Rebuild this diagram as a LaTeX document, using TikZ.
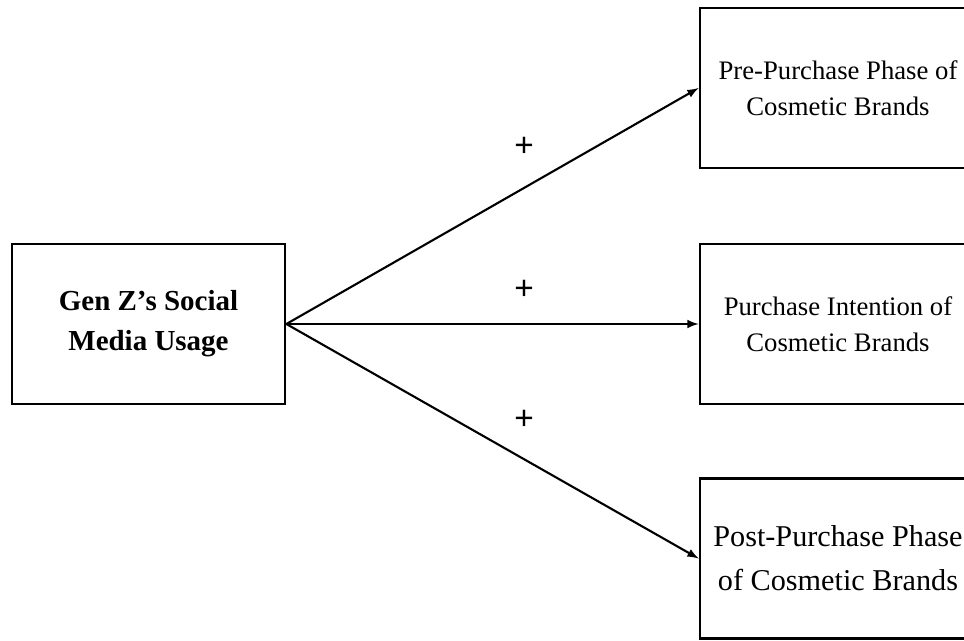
\documentclass[tikz,border=0pt]{standalone}
\usepackage{fontspec}
\setmainfont{Liberation Serif}
\setsansfont{Liberation Sans}
\def\h{0.02}
\tikzset{
	kasten/.style={draw,line width=1.6pt,minimum width={5.46cm},minimum height={3.2cm},align=center,inner sep=0pt},
	ziel/.style={kasten,minimum width={5.52cm}},
	pfeil/.style={->,line width=1.2pt},
	plus/.style={font=\sffamily\fontsize{19}{20}\selectfont}
}
\begin{document}
\begin{tikzpicture}[>=latex]
\useasboundingbox (0,0) rectangle ({964*\h},{-641*\h});
% Kaesten
\node[kasten,font=\bfseries\fontsize{16.5}{22.8}\selectfont] (usage) at ({148.5*\h},{-324*\h}) {Gen Z's Social\\Media Usage};
\node[ziel,font=\fontsize{15.2}{20.5}\selectfont] (pre) at ({838*\h},{-88*\h}) {Pre-Purchase Phase of\\Cosmetic Brands};
\node[ziel,font=\fontsize{15.2}{20.5}\selectfont] (intent) at ({838*\h},{-324*\h}) {Purchase Intention of\\Cosmetic Brands};
\node[ziel,font=\fontsize{17.2}{25}\selectfont] (post) at ({838*\h},{-558.5*\h}) {Post-Purchase Phase\\of Cosmetic Brands};
% Pfeile
\draw[pfeil] (usage.east) -- (pre.west);
\draw[pfeil] (usage.east) -- (intent.west);
\draw[pfeil] (usage.east) -- (post.west);
% Vorzeichen
\node[plus] (p1) at ({524*\h},{-147*\h}) {+};
\node[plus] (p2) at ({524*\h},{-290*\h}) {+};
\node[plus] (p3) at ({524*\h},{-420*\h}) {+};
\end{tikzpicture}
\end{document}
